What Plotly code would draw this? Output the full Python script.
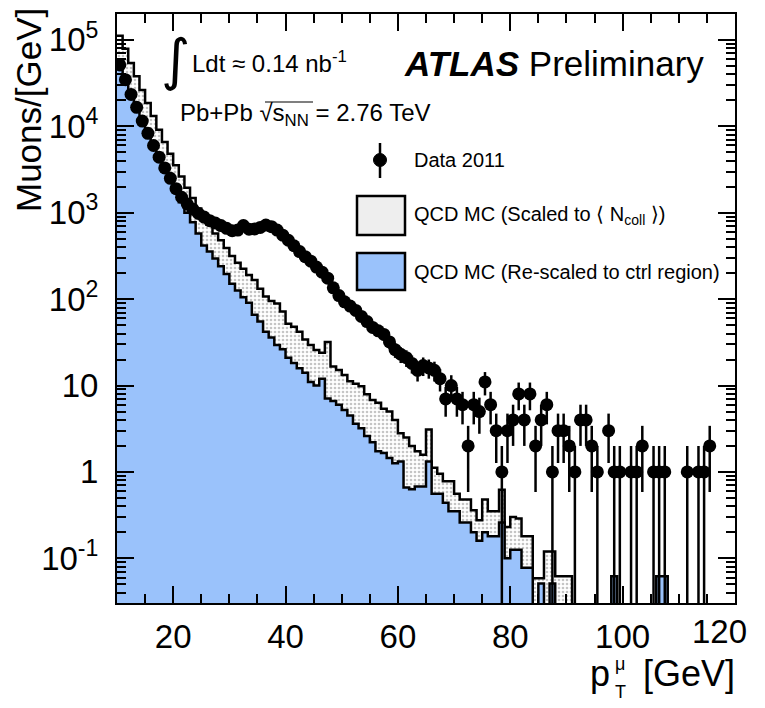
import numpy as np
import plotly.graph_objects as go

# ---------------- data ----------------
bin_lo = 10
bin_hi = 120
bin_w = 1.0

data_pt = [10.5, 11.5, 12.5, 13.5, 14.5, 15.5, 16.5, 17.5, 18.5, 19.5,
           20.5, 21.5, 22.5, 23.5, 24.5, 25.5, 26.5, 27.5, 28.5, 29.5,
           30.5, 31.5, 32.5, 33.5, 34.5, 35.5, 36.5, 37.5, 38.5, 39.5,
           40.5, 41.5, 42.5, 43.5, 44.5, 45.5, 46.5, 47.5, 48.5, 49.5,
           50.5, 51.5, 52.5, 53.5, 54.5, 55.5, 56.5, 57.5, 58.5, 59.5,
           60.5, 61.5, 62.5, 63.5, 64.5, 65.5, 66.5, 67.5, 68.5, 69.5,
           70.5, 71.5, 72.5, 73.5, 74.5, 75.5, 76.5, 77.5, 78.5, 79.5,
           80.5, 81.5, 82.5, 83.5, 84.5, 85.5, 86.5, 87.5, 88.5, 89.5,
           90.5, 91.5, 92.5, 93.5, 94.5, 95.5, 97.5, 98.5, 99.5, 101.5,
           102.5, 103.5, 105.5, 106.5, 107.5, 111.5, 113.5, 114.5, 115.5]
data_val = [51300, 34700, 23400, 16600, 11500, 8300, 6000, 4400, 3300, 2500,
            1900, 1510, 1260, 1100, 980, 890, 810, 760, 710, 660,
            620, 630, 710, 645, 650, 675, 720, 690, 630, 550,
            480, 415, 355, 310, 275, 235, 205, 175, 135, 110,
            93, 83, 74, 63, 55, 47, 43, 39, 32, 26,
            23, 21, 18, 15, 17, 16, 15, 12, 7, 10,
            7, 6, 2, 6, 5, 11, 6, 3, 1, 3,
            4, 8, 4, 8, 2, 4, 6, 1, 3, 3,
            2, 1, 4, 4, 2, 1, 3, 1, 1, 1,
            1, 2, 1, 1, 1, 1, 1, 1, 2]

# MC histograms, one value per 1 GeV bin from 10 to 120 (0 = empty bin)
mc_ncoll = [112000, 79000, 54000, 38000, 26300, 18600, 13200, 9100, 6600, 4800,
            3550, 2630, 1950, 1480, 1120, 890, 725, 575, 480, 390,
            316, 263, 224, 190, 166, 132, 107, 95, 89, 72,
            52, 48, 42, 34, 29.5, 25.7, 24, 32, 16.6, 15.1,
            13.2, 11.2, 10.5, 9.8, 7.9, 6.8, 6.3, 5.4, 5.0, 4.0,
            2.8, 2.5, 2.0, 1.74, 1.58, 3.1, 1.12, 0.95, 0.78, 0.78,
            0.56, 0.48, 0.48, 0.36, 0.275, 0.48, 0.35, 0.35, 0.62, 0.23,
            0.30, 0.29, 0.18, 0.18, 0.059, 0.059, 0.12, 0.12, 0.062, 0.062,
            0.062, 0, 0, 0, 0, 0, 0, 0, 0.062, 0,
            0, 0, 0, 0, 0, 0, 0.062, 0.062, 0, 0,
            0, 0, 0, 0, 0, 0, 0, 0, 0, 0]
mc_ctrl = [52500, 36300, 25100, 17400, 12000, 8500, 6000, 4370, 3160, 2340,
           1740, 1320, 1000, 776, 575, 417, 355, 295, 240, 195,
           151, 126, 105, 91, 66, 55, 42, 36, 29.5, 26.3,
           20.9, 18.2, 15.8, 14.1, 11.0, 10.0, 12.0, 7.1, 6.6, 6.0,
           5.2, 4.5, 3.6, 3.2, 2.6, 2.2, 1.74, 1.66, 1.45, 1.26,
           1.32, 0.66, 0.63, 0.68, 0.68, 1.32, 0.56, 0.56, 0.44, 0.35,
           0.35, 0.26, 0.26, 0.20, 0.16, 0.20, 0.18, 0.18, 0.26, 0.10,
           0.126, 0.126, 0.078, 0.078, 0, 0.051, 0, 0.051, 0, 0,
           0, 0, 0, 0, 0, 0, 0, 0, 0.062, 0,
           0, 0, 0, 0, 0, 0, 0.062, 0.062, 0, 0,
           0, 0, 0, 0, 0, 0, 0, 0, 0, 0]

y_tickvals = [0.1, 1, 10, 100, 1000, 10000, 100000]
y_ticktext = ["10<sup>-1</sup>", "1", "10", "10<sup>2</sup>", "10<sup>3</sup>",
              "10<sup>4</sup>", "10<sup>5</sup>"]
x_tickvals = [20, 40, 60, 80, 100, 120]
x_ticktext = ["20", "40", "60", "80", "100", ""]   # last label drawn shifted, as in ROOT
x_last_label = "120"

FLOOR = 1e-4
BLUE = "#9ac2fb"
FONT = "Liberation Sans, Arial, Helvetica, sans-serif"

edges = list(np.arange(bin_lo, bin_hi + bin_w / 2, bin_w))


def step_y(vals):
    v = [max(a, FLOOR) for a in vals]
    return v + [v[-1]]


fig = go.Figure()

# baseline + Ncoll-scaled MC (dotted white)
fig.add_trace(go.Scatter(x=[edges[0], edges[-1]], y=[FLOOR, FLOOR], mode="lines",
                         line=dict(width=0), hoverinfo="skip", showlegend=False))
fig.add_trace(go.Scatter(x=edges, y=step_y(mc_ncoll), mode="lines", line_shape="hv",
                         line=dict(color="black", width=2.5), fill="tonexty",
                         fillcolor="white",
                         fillpattern=dict(shape=".", size=4, solidity=0.35,
                                          fgcolor="#8c8c8c", bgcolor="white"),
                         showlegend=False))
# baseline + control-region MC (blue)
fig.add_trace(go.Scatter(x=[edges[0], edges[-1]], y=[FLOOR, FLOOR], mode="lines",
                         line=dict(width=0), hoverinfo="skip", showlegend=False))
fig.add_trace(go.Scatter(x=edges, y=step_y(mc_ctrl), mode="lines", line_shape="hv",
                         line=dict(color="black", width=2.5), fill="tonexty",
                         fillcolor=BLUE, showlegend=False))

# data with Poisson errors
d = np.array(data_val, dtype=float)
err_up = np.sqrt(d)
err_dn = np.minimum(np.sqrt(d), d - 1e-3)
fig.add_trace(go.Scatter(x=data_pt, y=data_val, mode="markers",
                         marker=dict(color="black", size=13),
                         error_y=dict(type="data", array=list(err_up), arrayminus=list(err_dn),
                                      color="black", thickness=2.5, width=0),
                         showlegend=False))

# ---------------- layout ----------------
L, R, T, B = 117, 30, 14, 105
W, H = 765, 708
pw, ph = W - L - R, H - T - B


def px(xp):
    return (xp - L) / pw


def py(yp):
    return (H - B - yp) / ph


fig.update_layout(
    width=W, height=H,
    margin=dict(l=L, r=R, t=T, b=B),
    paper_bgcolor="white", plot_bgcolor="white",
    font=dict(family=FONT, color="black"),
    showlegend=False,
)
fig.update_xaxes(range=[bin_lo, bin_hi], tickvals=x_tickvals, ticktext=x_ticktext,
                 ticks="inside", ticklen=17,
                 tickwidth=1.5, tickcolor="black", showline=True, linecolor="black",
                 linewidth=2, mirror="allticks", showgrid=False, zeroline=False,
                 tickfont=dict(size=33), ticklabelstandoff=3,
                 minor=dict(ticks="inside", ticklen=9, dtick=5, tickwidth=1.5,
                            tickcolor="black", showgrid=False))
fig.update_yaxes(type="log", range=[-1.517, 5.30], tickvals=y_tickvals, ticktext=y_ticktext,
                 ticks="inside", ticklen=17, tickwidth=1.5, tickcolor="black",
                 showline=True, linecolor="black", linewidth=2, mirror="allticks",
                 showgrid=False, zeroline=False, tickfont=dict(size=33),
                 ticklabelstandoff=10,
                 minor=dict(ticks="inside", ticklen=9, dtick="D1", tickwidth=1.5,
                            tickcolor="black", showgrid=False))


def note(text, xp, yp, size, xanchor="left", yanchor="middle", **kw):
    return dict(text=text, x=px(xp), y=py(yp), xref="paper", yref="paper",
                showarrow=False, font=dict(size=size, **kw.pop("font_extra", {})),
                xanchor=xanchor, yanchor=yanchor, **kw)


ann = [
    note("∫", 175, 60, 56, xanchor="center", font_extra=dict(family="DejaVu Sans")),
    note("Ldt ≈ 0.14 nb<sup>-1</sup>", 190, 62, 24),
    note("Pb+Pb √s<sub>NN</sub> = 2.76 TeV", 178, 115, 24),
    note("<b><i>ATLAS</i></b> Preliminary", 402, 63, 35),
    note("Data 2011", 412, 160, 20),
    note("QCD MC (Scaled to ⟨ N<sub>coll</sub> ⟩)", 412, 215, 20),
    note("QCD MC (Re-scaled to ctrl region)", 412, 272, 20),
    note("Muons/[GeV]", 28, 6, 35, xanchor="center", yanchor="top", textangle=-90),
    note(x_last_label, 719, 631, 33, xanchor="center"),
    # x-axis title: p with stacked mu / T, then [GeV]
    note("p", 612, 673, 36, xanchor="right"),
    note("μ", 620, 664, 18, xanchor="center"),
    note("T", 620, 692, 18, xanchor="center"),
    note("[GeV]", 737, 673, 36, xanchor="right"),
]
fig.update_layout(annotations=ann)

shapes = []
# overline of sqrt(s_NN)
shapes.append(dict(type="line", xref="paper", yref="paper", x0=px(265), x1=px(313),
                   y0=py(102), y1=py(102), line=dict(color="black", width=1.2)))
# legend: data marker + error bar
shapes.append(dict(type="line", xref="paper", yref="paper", x0=px(380), x1=px(380),
                   y0=py(143), y1=py(178), line=dict(color="black", width=2.5)))
shapes.append(dict(type="circle", xref="paper", yref="paper", x0=px(373.5), x1=px(386.5),
                   y0=py(166.5), y1=py(153.5), fillcolor="black",
                   line=dict(color="black", width=1)))
# legend boxes
shapes.append(dict(type="rect", xref="paper", yref="paper", x0=px(357), x1=px(405),
                   y0=py(235), y1=py(196), fillcolor="#eeeeee",
                   line=dict(color="black", width=2.5)))
shapes.append(dict(type="rect", xref="paper", yref="paper", x0=px(357), x1=px(405),
                   y0=py(290), y1=py(253), fillcolor=BLUE,
                   line=dict(color="black", width=2.5)))
fig.update_layout(shapes=shapes)

fig.write_html("out.html")
